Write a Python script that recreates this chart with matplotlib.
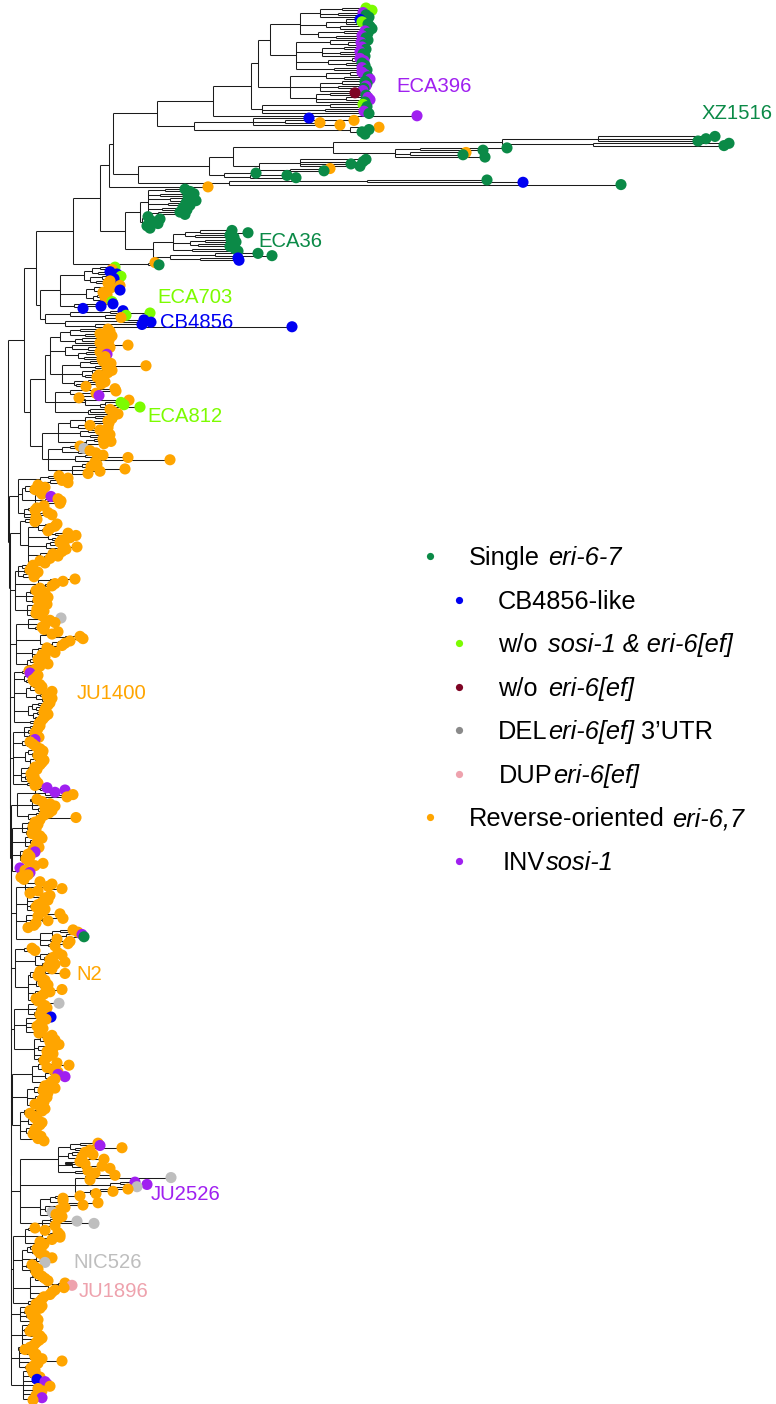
import re
import matplotlib
matplotlib.use("Agg")
import matplotlib.pyplot as plt
from matplotlib.collections import LineCollection

# ---------------- data: tree in a compact Newick-like notation ----------------
# leaf = colour code + tip depth (px), ")N" = internal node at depth N (px)
T1A = "(((l366,l372)342,(v363,g366)338,g369)320,((b360,l362,g368)346,(g370,g372)340)326,((v365,g368)344,(v362,g366)336)318)300"
T1B = "((g368,(v361,g364)348)330,((v362,g366)344,(v360,g363)340,g365)322,((v360,v364)352,(g362,g365)346)328,(v362,g367)334)296"
T1C = "(((v362,v365)350,(g368,v370)344)326,((g365,g367)342,(v366,g364)338,v363)320,((m355,g366)330,(v368,v370)346,g365)316)290"
T1D = "((l363,g367)330,(g366,v364)325,g369)262"
N194 = "((b309,(o354,o320)285,o340)253,(o379,(g369,g362,g365)358)350)194"
XZ = "((g715,g706,g698)598,(g729,g724)593)502"
N395 = "((g507,g483)420,(o466,g463)410,g485)395"
N259 = "((g366,g363,g351,g360)300,(o330,g324)290)259"
G224 = "(g256,(g287,g296)250)224"
N229 = "((g487,b523)367,g621)229"
CL1 = "(((g185,g190)165,(g194,g188)160,(g192,g196)170,(g186,g190)168,(g183,g187)162,(g180,g185)158)148,((g148,g160)145,(g152,g158)150,(g147,g150)144)142)140"
ECA36 = "((((g232,g248)200,(g230,g234)195)185,((g231,g236)205,(g233,g230)198)190,(g235,g238)192)173,((g258,g272)215,(b238,b239)200)170)153"
PAIR = "(o155,g159)148"
CBA = "((((l115,o112)100,(b110,b117)98)92,((l121,b114)102,(o110,o108)96)90)84,(((o120,o111)104,(b120,o103)99)94,((o107,o105)97,(o106,l112)100)93)86,(b113,(b101,b83)78)74)60"
CBB = "(((b123,l150)110,(l126,o121)105)70,((b144,b151)120,(b142,b292)95)65)45"
E1 = "((((o108,o110)80,(o100,o112)85)70,((o104,o109)82,o100)75)60,((o128,(o110,o106)88)72,((o100,v107)86,(o105,o102)84)78)65,(((o103,o111)90,(o146,o107)95)80,((o112,o108)92,(o99,o97)85)82,((o103,o105)88,(o101,o86)76)74)62)50"
E2 = "(((o115,o116)95,(o96,v99)80)70,((o79,o129)75,((l121,l124)105,l140)100)85,((o110,o113)90,o118)88)55"
E3 = "((((o113,o112)95,(o108,o109)92)85,(o90,o108)78)70,((o100,o105)88,(o110,o107)90)80,((o103,o111)94,o104)86)58"
E4 = "(((o80,r84)70,(o90,o96)78)62,((o103,o128)85,(o170,o95)90)75,((o97,o91)82,(o125,o100)88,o88)72)48"
L1 = "(((o59,o68)48,(o62,o68)50)40,(((o38,o45)33,(o35,o40)30)25,((o42,v51)38,(o58,o61)45,(o60,o44)42)35)22,((o37,o35)28,(o48,o52)40,o36)24)18"
L2 = "((o37,o35)25,(((o57,o55)45,(o50,o48)42)38,((o68,o76)55,(o70,o62)52)48,((o60,o64)50,(o77,o66)58)46,((o62,o53)48,(o58,o50)44)40,(o40,o45)32)28)20"
L3 = "(((o33,o32)22,(o30,o38)24,(o35,o34)23)18,((o75,o63)50,(o55,o52)45,o40)38,((o36,o45)30,(o40,o48)35,(o38,o40)32)26,((o47,o42)36,(o37,o44)33,(o36,o42)31)27)15"
L4 = "(((r61,o50)40,(o55,o45)42,(o42,o44)35)28,(((o58,o52)45,(o80,o83)65)55,((o70,o65)58,o62)52)40,((o47,o50)38,(o55,o42)40,o45)32,((o38,o43)30,(o48,o40)34,o36)27)16"
L5 = "((o29,v30)22,((o38,o36)28,(o33,o35)26)24,(((o40,o42)33,(o40,o52)38)30,((o50,o47)40,(o52,o49)42)36)26,(((o50,o48)38,(o46,o45)36)32,((o44,o48)37,(o45,o43)35)33)28,(o41,o39)30)14"
L6 = "(((o40,o38)30,(o37,o35)28,(o36,o39)29)24,((v35,o30)25,(o33,o36)27)22,(((o40,o43)34,(o42,o38)32)28,((o41,o44)35,(o42,o40)33)30)25,((o35,o37)28,(o33,o31)26,(o34,o32)25,o36)21,(o38,o35)27)13"
L7 = "(((v47,v65)40,(v55,o73)45,o67)35,((o37,o42)30,(o50,o55)40,(o45,o52)38)32,((o49,o44)36,(o76,o40)30)28)17"
L8 = "(((o35,o38)28,(o33,o36)27,(o34,o32)26)22,((o40,o42)32,(o38,o37)30,(o36,o39)31)25,((o33,v35)27,(o28,o30)24,(o26,o29)23)20,((o43,o35)30,(v20,o25)18,(v30,o28)24,(o21,o24)19)17)12"
L9 = "(((o40,o52)35,(o48,o62)45,(o38,o30)28)25,((o50,o45)40,(o48,o42)38,(o38,o36)30,(o45,o43)36)27,((o60,o38)35,(o63,o48)42,(o36,o34)30,o28)26,(((o73,o78)60,(v82,g84)66)52,(o57,o70)50,(o68,o55)48)40)16"
L10 = "((o32,o35)24,(((o58,o62)48,(o53,o50)44)40,((o65,o55)50,(o48,o52)45)42)35,(((o40,o65)45,(o38,o42)34)30,((o45,o43)38,(o48,o46)40)36,((o62,o50)48,(o44,o41)37)35,(o36,o38)33)28)15"
L11 = "(((r59,o45)38,(o47,o42)36,(o44,o40)34)28,((b51,o46)40,(o42,o40)35,(o37,o43)33,(o41,o39)35)26,(((o52,o48)44,(o55,o50)46)40,((o59,o54)48,(o50,o47)42)38,(o53,o49)44,(o46,o44)38)34)14"
L12 = "((((o57,o69)52,(o47,o53)44)38,((o58,v58)50,(v65,o55)52)45,(o52,o50)42)32,(((o45,o55)40,(o43,o48)38)34,((o45,o47)40,(o42,o44)37)35,(o35,o40)30)27,(((o45,o42)36,(o30,o33)26)24,((o35,o38)30,(o42,o40)34)28,((o37,o35)30,(o36,o33)28)26,(o41,o38,o44)35)20)12"
L13 = "((((o98,v100)80,(o122,o90)75)70,((o85,o93)72,(o82,o104)78)68,((o80,o85)65,(o102,o110)82)72,(o88,o95)75)58,(((o115,r171)95,o90)85,((v135,v147)120,r137)110,((o128,o113)100,o96)90)75,(((o80,o63)55,(o63,o98)60)50,((o83,o65)58,(o60,r52)48)45,(o56,o62)50)40,((o58,r77)50,r94,o55)42)20"
L14 = "(((o35,o45)28,((o58,o60)50,(o60,o52)48)42,(o40,o44)35)25,(((o42,o37)30,(o38,o40)32)27,((o45,o52)42,(o45,r45)40)36,(o32,o35)26,(o38,o36)30)22,(((o38,o42)32,(o45,o48)40)35,((o65,p72)58,(o64,o55)54)48,(o52,o50)44,(o44,o42)38)30,(o40,o36)28)13"
L15 = "(((o42,o40)32,(o30,o34)24,(o32,o36)26,(o38,o35)30)20,((o35,o38)28,(o32,o30)24,(o37,o40)30,(o42,o39)34,(o36,o34)29)22,((o30,o25)18,(o33,o36)26,(o35,o42)30,(o62,o38)32,(o34,o31)25)19,((o35,o33)27,(o36,o40)30,(b37,v45)32,(v47,o50)40,(o38,o42)33,(o40,o36)31,(v42,o33)30)23)11"
COMB_X = [8, 9, 10, 10, 10, 10, 10, 11, 11, 11, 11, 11, 11, 11, 11]

LABELS = ["ECA396", "XZ1516", "ECA36", "ECA703", "CB4856", "ECA812",
          "JU1400", "N2", "JU2526", "NIC526", "JU1896"]
LABEL_COL = ["v", "g", "g", "l", "b", "l", "o", "o", "v", "r", "p"]

LEGEND_COL = ["g", "b", "l", "m", "r2", "p", "o", "v"]
LEGEND_PARTS = [
    [("Single", False), ("eri-6-7", True)],
    [("CB4856-like", False)],
    [("w/o", False), ("sosi-1 & eri-6[ef]", True)],
    [("w/o", False), ("eri-6[ef]", True)],
    [("DEL", False), ("eri-6[ef]", True), ("3\u2019UTR", False)],
    [("DUP", False), ("eri-6[ef]", True)],
    [("Reverse-oriented", False), ("eri-6,7", True)],
    [("INV", False), ("sosi-1", True)],
]

COLORS = {"g": "#0B8A47", "b": "#0000F2", "l": "#7CFC00", "m": "#7E0424",
          "r": "#BEBEBE", "r2": "#8A8A8A", "p": "#EEA2AD", "o": "#FFA500",
          "v": "#A020F0"}

# ---------------- assemble tree ----------------
T1 = f"((({T1A},{T1B})270,{T1C})258,{T1D})251"
n213 = f"({T1},v417)213"
n157 = f"({n213},{N194})157"
n333 = f"({XZ},{N395})333"
n233 = f"({n333},{N259})233"
n209 = f"({n233},{G224})209"
n138 = f"({n209},{N229})138"
n113 = f"({n157},{n138})113"
n109 = f"({n113},o208)109"
n125 = f"({CL1},{ECA36})125"
n100 = f"({n109},{n125})100"
n73 = f"({n100},{PAIR})73"
n36 = f"({n73},({CBA},{CBB})40)36"
ECA812 = f"(({E1},{E2})45,({E3},{E4})42)30"
UP = f"({n36},{ECA812})24"
items = [UP, L1, L2, L3, L4, L5, L6, L7, L8, L9, L10, L11, L12, L13, L14, L15]
s = items[-1]
for it, cx in zip(reversed(items[:-1]), reversed(COMB_X)):
    s = f"({it},{s}){cx}"
TREE = s


def parse(text):
    text = re.sub(r"\s+", "", text)
    pos = 0
    num = re.compile(r"[0-9.]+")

    def node():
        nonlocal pos
        if text[pos] == "(":
            pos += 1
            ch = [node()]
            while text[pos] == ",":
                pos += 1
                ch.append(node())
            pos += 1  # ')'
            m = num.match(text, pos)
            pos = m.end()
            return {"x": float(m.group()), "children": ch}
        c = text[pos]
        pos += 1
        m = num.match(text, pos)
        pos = m.end()
        return {"x": float(m.group()), "color": c}

    return node()


root = parse(TREE)
leaves = []


def collect(n):
    if "children" in n:
        for c in n["children"]:
            collect(c)
    else:
        leaves.append(n)


collect(root)
Y_TOP, Y_BOT = 8.0, 1400.0
step = (Y_BOT - Y_TOP) / (len(leaves) - 1)
for i, lf in enumerate(leaves):
    lf["y"] = Y_TOP + i * step


def set_y(n):
    if "children" in n:
        for c in n["children"]:
            set_y(c)
        n["y"] = 0.5 * (n["children"][0]["y"] + n["children"][-1]["y"])


set_y(root)

segs = []


def build(n):
    if "children" in n:
        ch = n["children"]
        segs.append([(n["x"], ch[0]["y"]), (n["x"], ch[-1]["y"])])
        for c in ch:
            segs.append([(n["x"], c["y"]), (c["x"], c["y"])])
            build(c)


build(root)

# ---------------- draw ----------------
W, H = 776, 1404
fig = plt.figure(figsize=(W / 100, H / 100), dpi=100)
ax = fig.add_axes([0, 0, 1, 1])
ax.set_xlim(0, W)
ax.set_ylim(H, 0)
ax.axis("off")

ax.add_collection(LineCollection(segs, colors="#1c1c1c", linewidths=0.75, zorder=1))
ax.scatter([lf["x"] for lf in leaves], [lf["y"] for lf in leaves],
           c=[COLORS[lf["color"]] for lf in leaves], s=64, linewidths=0, zorder=2)

FONT = "Liberation Sans"
label_pos = [(396, 85), (702, 112), (258, 240), (157, 296), (160, 321), (147, 415),
             (77, 692), (76, 973), (151, 1193), (73, 1261), (79, 1290)]
for name, col, (lx, ly) in zip(LABELS, LABEL_COL, label_pos):
    ax.text(lx, ly + 7.3, name, color=COLORS[col], fontsize=14.6, family=FONT,
            va="baseline", ha="left", zorder=3)

leg_dot = [(430, 556), (459, 600), (459, 643), (459, 687), (459, 730), (459, 774),
           (430, 817), (459, 861)]
leg_text_x = [[469, 548], [498], [498, 548], [498, 548], [498, 548, 641], [499, 553],
              [469, 672], [503, 546]]
for col, (dx, dy), parts, xs in zip(LEGEND_COL, leg_dot, LEGEND_PARTS, leg_text_x):
    ax.scatter([dx], [dy], s=27, c=COLORS[col], linewidths=0, zorder=3)
    for (txt, ital), tx in zip(parts, xs):
        ax.text(tx, dy + 9, txt, fontsize=18.3, family=FONT,
                style="italic" if ital else "normal", color="black",
                va="baseline", ha="left")

fig.savefig("out.png", dpi=100)
